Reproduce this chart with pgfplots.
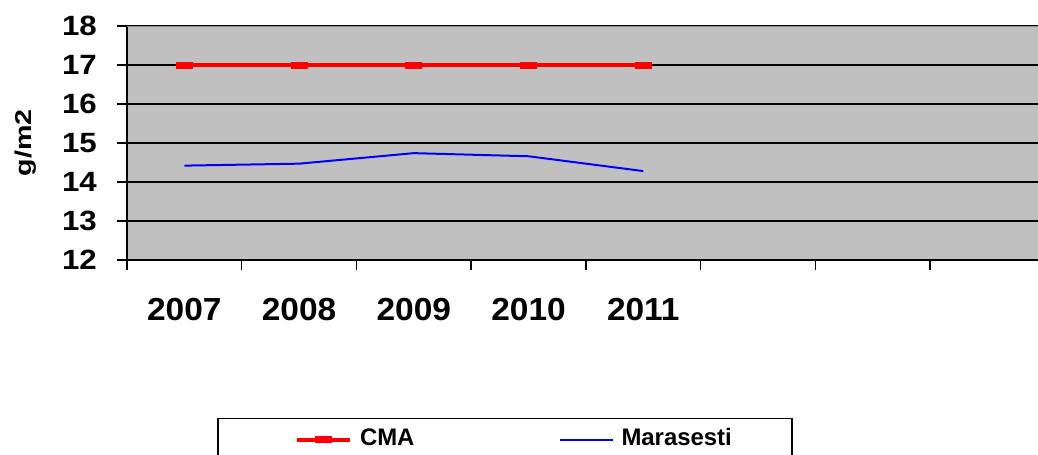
\documentclass[border=0pt]{standalone}
\usepackage{fontspec}
\setmainfont{Liberation Sans}
\usepackage{graphicx}
\usepackage{pgfplots}
\pgfplotsset{compat=1.18}

\definecolor{bgray}{HTML}{C0C0C0}
\definecolor{edgegray}{HTML}{8C8C8C}

\newcommand{\wx}[1]{\scalebox{1.05}[1]{#1}}

% legend sample with extra room on its left
\pgfplotsset{cma legend/.style={legend image code/.code={\path (-17bp,0bp);
    \draw[mark repeat=2,mark phase=2,##1] plot coordinates {(0bp,0bp) (26.5bp,0bp) (53bp,0bp)};}}}

\begin{document}
\begin{tikzpicture}
\useasboundingbox (0bp,0bp) rectangle (1038bp,455bp);
\begin{axis}[
    at={(127bp,195bp)}, anchor=south west,
    scale only axis, width=911bp, height=234bp,
    xmin=0, xmax=7.94, ymin=12, ymax=18,
    axis background/.style={fill=bgray},
    axis x line*=bottom, axis y line*=left,
    axis line style={black, line width=1.8bp},
    tick align=outside, major tick length=10bp,
    tick style={black, line width=1.5bp},
    xtick={0,1,...,7}, xticklabels={},
    extra x ticks={0.5,1.5,2.5,3.5,4.5},
    extra x tick labels={\wx{2007},\wx{2008},\wx{2009},\wx{2010},\wx{2011}},
    extra x tick style={major tick length=0pt, grid=none,
        tick label style={anchor=base, yshift=-60bp, inner sep=0pt,
        font=\fontsize{32}{36}\selectfont\bfseries}},
    ytick={12,13,...,18},
    yticklabel={\scalebox{1.12}[1]{\pgfmathprintnumber{\tick}}},
    ymajorgrids, major grid style={black, line width=1.5bp},
    yticklabel style={anchor=east, inner sep=0pt, xshift=-20bp,
        font=\fontsize{28}{32}\selectfont\bfseries},
    /pgf/number format/assume math mode=true,
    ylabel={\scalebox{1.25}[1]{g/m2}},
    ylabel style={font=\fontsize{23}{26}\selectfont\bfseries,
        at={(axis description cs:-0.111,0.5)}, anchor=center},
    legend columns=2,
    legend style={at={(axis description cs:0.0988,-0.675)}, anchor=north west,
        draw=black, line width=1.5bp, inner xsep=60bp, inner ysep=10bp,
        font=\fontsize{24}{28}\selectfont\bfseries,
        nodes={inner sep=0pt, text height=17bp, text depth=5bp},
        /tikz/every odd column/.append style={column sep=8bp},
        /tikz/every even column/.append style={column sep=144bp}},
    legend image code/.code={\draw[mark repeat=2,mark phase=2,#1] plot coordinates {(0bp,0bp) (26.5bp,0bp) (53bp,0bp)};},
]
\addplot[red, line width=4.3bp, mark=square*, mark size=3bp,
    mark options={xscale=2.67, solid, fill=red, draw=red, line width=0pt},
    cma legend]
    coordinates {(0.5,17) (1.5,17) (2.5,17) (3.5,17) (4.5,17)};
\addlegendentry{CMA}
\addplot[blue, line width=2bp, no marks]
    coordinates {(0.5,14.42) (1.5,14.47) (2.5,14.74) (3.5,14.66) (4.5,14.28)};
\addlegendentry{Marasesti}
\draw[edgegray, line width=2.5bp] (axis cs:0,18) -- (axis cs:7.94,18);
\end{axis}
\end{tikzpicture}
\end{document}
